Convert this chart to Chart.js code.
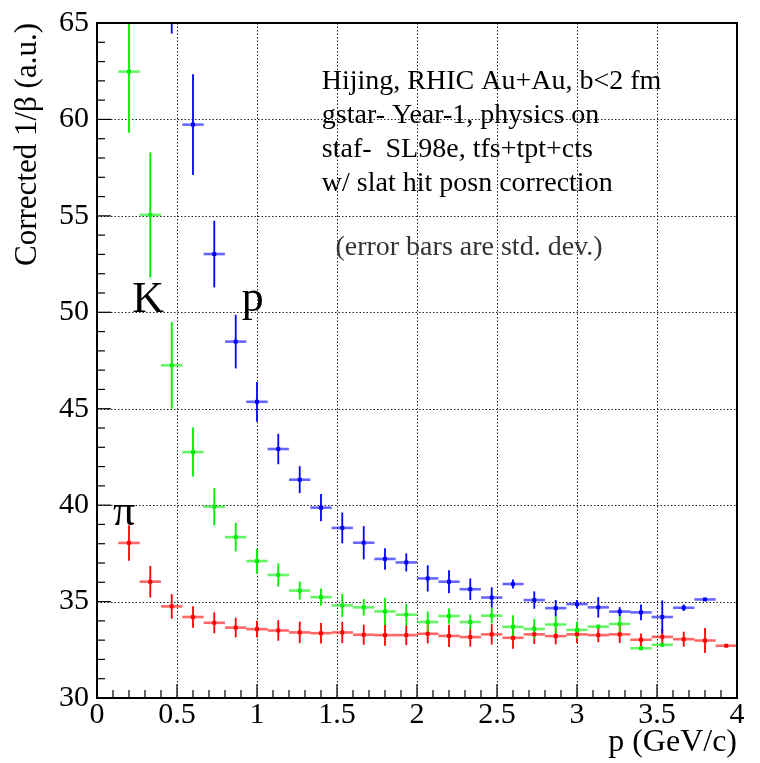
<!DOCTYPE html>
<html><head><meta charset="utf-8">
<script src="https://cdn.jsdelivr.net/npm/chart.js@4"></script>
<style>html,body{margin:0;padding:0;background:#fff;} #wrap{width:760px;height:763px;}</style>
</head><body><div id="wrap"><canvas id="c" width="760" height="763"></canvas></div>
<script>
// ---- data ----
const momentum = [0.2, 0.333, 0.467, 0.6, 0.733, 0.867, 1.0, 1.133, 1.267, 1.4, 1.533, 1.667, 1.8, 1.933,
  2.067, 2.2, 2.333, 2.467, 2.6, 2.733, 2.867, 3.0, 3.133, 3.267, 3.4, 3.533, 3.667, 3.8, 3.933];
const binHalfWidth = 0.0667;

const pionY = [38.04, 36.03, 34.75, 34.2, 33.9, 33.65, 33.57, 33.5, 33.4, 33.36, 33.4, 33.28, 33.26, 33.26,
  33.33, 33.22, 33.16, 33.3, 33.12, 33.3, 33.21, 33.3, 33.26, 33.3, 33.02, 33.17, 33.05, 32.98, 32.71];
const pionErr = [0.92, 0.82, 0.64, 0.56, 0.54, 0.51, 0.43, 0.53, 0.56, 0.53, 0.55, 0.52, 0.55, 0.52,
  0.5, 0.58, 0.5, 0.53, 0.56, 0.5, 0.43, 0.45, 0.37, 0.45, 0.33, 0.43, 0.39, 0.65, 0.05];

const kaonY = [62.48, 55.05, 47.25, 42.75, 39.92, 38.34, 37.1, 36.38, 35.57, 35.23, 34.8, 34.7, 34.49, 34.32,
  33.94, 34.25, 33.94, 34.27, 33.69, 33.58, 33.81, 33.53, 33.7, 33.84, 32.58, 32.76, null, null, null];
const kaonErr = [3.17, 3.24, 2.25, 1.27, 0.96, 0.74, 0.64, 0.6, 0.47, 0.45, 0.59, 0.43, 0.71, 0.56,
  0.55, 0.4, 0.39, 0.4, 0.6, 0.51, 0.45, 0.43, 0.1, 0.45, 0.08, 0.08, null, null, null];

const protonY = [null, null, 67.5, 59.73, 53.02, 48.48, 45.36, 42.91, 41.32, 39.87, 38.82, 38.05, 37.21, 37.03,
  36.2, 36.03, 35.64, 35.21, 35.91, 35.08, 34.66, 34.87, 34.7, 34.48, 34.44, 34.2, 34.68, 35.11, null];
const protonErr = [null, null, 3.05, 2.61, 1.73, 1.39, 1.03, 0.79, 0.7, 0.71, 0.8, 0.86, 0.56, 0.47,
  0.68, 0.6, 0.56, 0.53, 0.23, 0.45, 0.42, 0.21, 0.53, 0.23, 0.41, 0.86, 0.17, 0.05, null];

const xTicks = [0, 0.5, 1, 1.5, 2, 2.5, 3, 3.5, 4];
const yTicks = [30, 35, 40, 45, 50, 55, 60, 65];
const xTitle = "p (GeV/c)";
const yTitle = "Corrected 1/\u03B2 (a.u.)";
const infoLines = ["Hijing, RHIC Au+Au, b<2 fm", "gstar- Year-1, physics on", "staf-  SL98e, tfs+tpt+cts", "w/ slat hit posn correction"];
const infoPos = [[1.405, 61.57], [1.405, 59.8], [1.405, 58.04], [1.405, 56.27]];
const noteLine = "(error bars are std. dev.)";
const notePos = [1.49, 52.98];
const speciesLabels = ["\u03C0", "K", "p"];
const speciesPos = [[0.10, 38.95], [0.22, 50.0], [0.905, 50.05]];

const SERIF = '"Liberation Serif", "DejaVu Serif", serif';

function points(ys) {
  const out = [];
  momentum.forEach((x, i) => { if (ys[i] !== null) out.push({x: x, y: ys[i]}); });
  return out;
}
function errs(ys, es) {
  const out = [];
  momentum.forEach((x, i) => { if (ys[i] !== null) out.push(es[i]); });
  return out;
}

const series = [
  {label: 'pi', color: '#ff0000', hcolor: 'rgba(255,0,0,0.6)', ys: pionY, es: pionErr},
  {label: 'K', color: '#00ee00', hcolor: 'rgba(0,238,0,0.6)', ys: kaonY, es: kaonErr},
  {label: 'p', color: '#0000ff', hcolor: 'rgba(0,0,255,0.6)', ys: protonY, es: protonErr}
];

const gridTicksPlugin = {
  id: 'gridTicks',
  beforeDatasetsDraw(chart) {
    const {ctx, chartArea: a, scales: {x, y}} = chart;
    ctx.save();
    // dotted grid
    ctx.strokeStyle = '#222';
    ctx.lineWidth = 1;
    ctx.setLineDash([1.5, 2]);
    xTicks.forEach(v => {
      if (v <= x.min || v >= x.max) return;
      const px = Math.round(x.getPixelForValue(v)) + 0.5;
      ctx.beginPath(); ctx.moveTo(px, a.top); ctx.lineTo(px, a.bottom); ctx.stroke();
    });
    yTicks.forEach(v => {
      if (v <= y.min || v >= y.max) return;
      const py = Math.round(y.getPixelForValue(v)) + 0.5;
      ctx.beginPath(); ctx.moveTo(a.left, py); ctx.lineTo(a.right, py); ctx.stroke();
    });
    ctx.setLineDash([]);
    // inward tick marks
    ctx.strokeStyle = '#000';
    ctx.lineWidth = 1.2;
    for (let k = 0; k <= 40; k++) {
      const v = x.min + k * 0.1;
      const px = x.getPixelForValue(v);
      const len = (k % 5 === 0) ? 14 : 8;
      ctx.beginPath(); ctx.moveTo(px, a.bottom); ctx.lineTo(px, a.bottom - len); ctx.stroke();
    }
    for (let k = 0; k <= 35; k++) {
      const v = y.min + k;
      const py = y.getPixelForValue(v);
      const len = (k % 5 === 0) ? 14 : 8;
      ctx.beginPath(); ctx.moveTo(a.left, py); ctx.lineTo(a.left + len, py); ctx.stroke();
    }
    // error bars
    ctx.save();
    ctx.beginPath(); ctx.rect(a.left, a.top, a.right - a.left, a.bottom - a.top); ctx.clip();
    chart.data.datasets.forEach(ds => {
      ds.data.forEach((pt, i) => {
        const e = ds.errors[i];
        const px = x.getPixelForValue(pt.x);
        const py = y.getPixelForValue(pt.y);
        const x0 = x.getPixelForValue(pt.x - binHalfWidth);
        const x1 = x.getPixelForValue(pt.x + binHalfWidth);
        ctx.strokeStyle = ds.hcolor;
        ctx.lineWidth = 2.6;
        ctx.beginPath(); ctx.moveTo(x0, py); ctx.lineTo(x1, py); ctx.stroke();
        ctx.strokeStyle = ds.backgroundColor;
        ctx.lineWidth = 1.8;
        ctx.beginPath(); ctx.moveTo(px, y.getPixelForValue(pt.y - e)); ctx.lineTo(px, y.getPixelForValue(pt.y + e)); ctx.stroke();
      });
    });
    ctx.restore();
    ctx.restore();
  },
  afterDatasetsDraw(chart) {
    const {ctx, chartArea: a, scales: {x, y}} = chart;
    ctx.save();
    ctx.strokeStyle = '#000';
    ctx.lineWidth = 2;
    ctx.strokeRect(a.left, a.top, a.right - a.left, a.bottom - a.top);
    // annotation texts
    ctx.fillStyle = '#000';
    ctx.textAlign = 'left';
    ctx.textBaseline = 'alphabetic';
    ctx.font = '28px ' + SERIF;
    infoLines.forEach((t, i) => {
      ctx.fillText(t, x.getPixelForValue(infoPos[i][0]), y.getPixelForValue(infoPos[i][1]));
    });
    ctx.fillStyle = '#333';
    ctx.fillText(noteLine, x.getPixelForValue(notePos[0]), y.getPixelForValue(notePos[1]));
    ctx.fillStyle = '#000';
    ctx.font = '44px ' + SERIF;
    speciesLabels.forEach((t, i) => {
      ctx.fillText(t, x.getPixelForValue(speciesPos[i][0]), y.getPixelForValue(speciesPos[i][1]));
    });
    ctx.restore();
  }
};

new Chart(document.getElementById('c'), {
  type: 'scatter',
  data: {
    datasets: series.map(s => ({
      label: s.label,
      data: points(s.ys),
      errors: errs(s.ys, s.es),
      hcolor: s.hcolor,
      backgroundColor: s.color,
      borderColor: s.color,
      pointStyle: 'rect',
      pointRadius: 2.8,
      pointBorderWidth: 0,
      showLine: false
    }))
  },
  options: {
    responsive: false,
    animation: false,
    events: [],
    layout: {padding: {top: 16, right: 23, left: 0, bottom: 0}},
    plugins: {legend: {display: false}, tooltip: {enabled: false}},
    scales: {
      x: {
        type: 'linear', min: 0, max: 4,
        afterBuildTicks: s => { s.ticks = xTicks.map(v => ({value: v})); },
        afterFit: s => { s.height = 65; },
        grid: {display: false, drawTicks: false},
        border: {display: false},
        ticks: {color: '#000', autoSkip: false, maxRotation: 0, padding: 2,
          font: {family: SERIF, size: 30, lineHeight: 1},
          callback: v => String(v)},
        title: {display: true, text: xTitle, align: 'end', color: '#000',
          font: {family: SERIF, size: 32, lineHeight: 1.2}, padding: {top: 0, bottom: 1}}
      },
      y: {
        type: 'linear', min: 30, max: 65,
        afterBuildTicks: s => { s.ticks = yTicks.map(v => ({value: v})); },
        afterFit: s => { s.width = 97; },
        grid: {display: false, drawTicks: false},
        border: {display: false},
        ticks: {color: '#000', autoSkip: false, padding: 8,
          font: {family: SERIF, size: 30, lineHeight: 1},
          callback: v => String(v)},
        title: {display: true, text: yTitle, align: 'end', color: '#000',
          font: {family: SERIF, size: 31, lineHeight: 1.2}, padding: {top: 9, bottom: 0}}
      }
    }
  },
  plugins: [gridTicksPlugin]
});
</script>
</body></html>
